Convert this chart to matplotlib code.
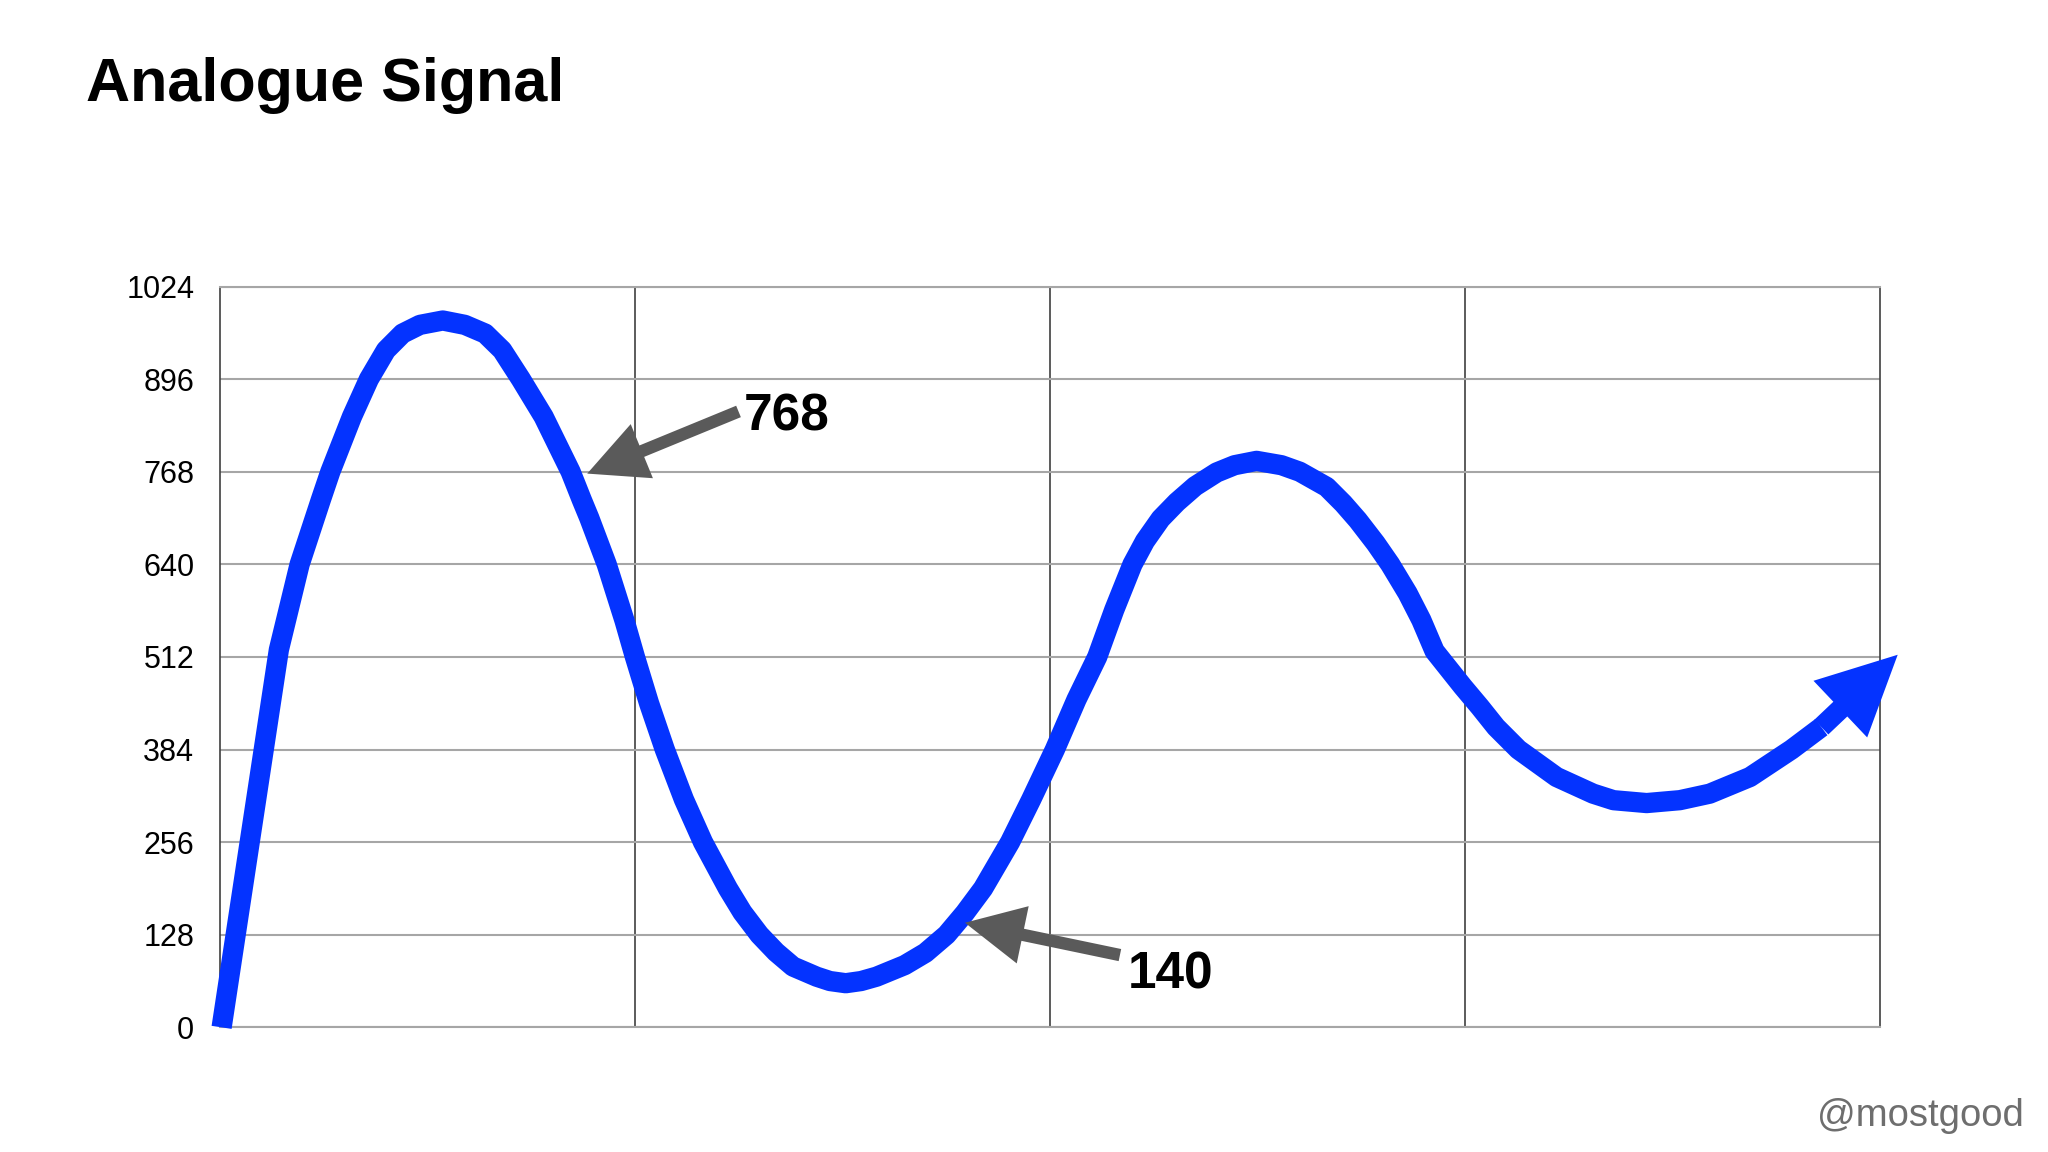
import matplotlib
matplotlib.use('Agg')
import matplotlib.pyplot as plt

plt.rcParams['font.family'] = ['Liberation Sans', 'DejaVu Sans']

# signal points (x in grid columns 0..4, y in 0..1024)
x_sig = [0.004, 0.142, 0.192, 0.243, 0.266, 0.318, 0.359, 0.400, 0.440, 0.482,
         0.537, 0.590, 0.639, 0.680, 0.725, 0.780, 0.845, 0.872, 0.890, 0.932,
         0.975, 1.000, 1.034, 1.072, 1.118, 1.164, 1.224, 1.259, 1.300, 1.340,
         1.381, 1.438, 1.470, 1.508, 1.545, 1.582, 1.650, 1.700, 1.751, 1.795,
         1.839, 1.904, 1.955, 2.012, 2.064, 2.114, 2.155, 2.199, 2.229, 2.267,
         2.306, 2.350, 2.402, 2.445, 2.498, 2.558, 2.602, 2.667, 2.707, 2.742,
         2.785, 2.820, 2.862, 2.895, 2.927, 2.995, 3.036, 3.075, 3.129, 3.221,
         3.309, 3.358, 3.438, 3.518, 3.590, 3.687, 3.787, 3.859]
y_sig = [0, 522, 640, 729, 768, 844, 896, 936, 959, 971,
         977, 971, 959, 936, 896, 844, 768, 729, 704, 640,
         562, 512, 448, 384, 315, 256, 192, 159, 128, 104,
         84, 70, 64, 61, 64, 70, 86, 103, 128, 158,
         192, 256, 315, 384, 453, 512, 577, 640, 672, 703,
         726, 748, 767, 777, 783, 777, 768, 747, 724, 701,
         669, 640, 600, 563, 520, 471, 443, 415, 384, 346,
         323, 314, 310, 314, 323, 346, 384, 415]
# where the arrow head of the signal ends
x_tip, y_tip = 4.043, 515

y_ticks = [0, 128, 256, 384, 512, 640, 768, 896, 1024]
x_lines = [1, 2, 3]

# callouts: label, label position, arrow tail, arrow tip
callouts = [
    ('768', (1.262, 825.6), (1.2496, 851.3), (0.885, 765.4)),
    ('140', (2.188, 53.9), (2.1687, 99.9), (1.7952, 144.6)),
]

azul = '#0433FF'
gris = '#5A5A5A'

fig = plt.figure(figsize=(20.48, 11.52), dpi=100)
ax = fig.add_axes([0.1074, 0.1082, 0.8105, 0.6431])

ax.set_xlim(0, 4)
ax.set_ylim(0, 1024)
ax.set_yticks(y_ticks)
ax.set_xticks(x_lines)
ax.set_xticklabels([])
ax.tick_params(axis='both', length=0)
ax.tick_params(axis='y', pad=18.5, labelsize=22)

ax.yaxis.grid(True, color='#a6a6a6', lw=1.5)
ax.xaxis.grid(True, color='#404040', lw=1.2)
ax.set_axisbelow(True)
for s in ['left', 'right']:
    ax.spines[s].set_color('#404040')
    ax.spines[s].set_linewidth(1.2)
for s in ['top', 'bottom']:
    ax.spines[s].set_color('#a6a6a6')
    ax.spines[s].set_linewidth(1.5)

ax.plot(x_sig, y_sig, color=azul, lw=14.6, solid_capstyle='butt',
        solid_joinstyle='round', clip_on=False, zorder=3)
ax.annotate('', xy=(x_tip, y_tip), xytext=(x_sig[-1], y_sig[-1]),
            arrowprops=dict(arrowstyle='simple,head_length=56.9,head_width=56.2,tail_width=14.6',
                            mutation_scale=1, color=azul, lw=0, shrinkA=0, shrinkB=0),
            annotation_clip=False, zorder=3)

for txt, pos, tail, tip in callouts:
    ax.annotate('', xy=tip, xytext=tail,
                arrowprops=dict(arrowstyle='simple,head_length=42.5,head_width=42.1,tail_width=8.9',
                                mutation_scale=1, color=gris, lw=0, shrinkA=0, shrinkB=0),
                annotation_clip=False, zorder=4)
    ax.text(pos[0], pos[1], txt, fontsize=37, fontweight='bold', ha='left',
            va='baseline', color='black', zorder=4)

fig.text(0.0418, 0.9123, 'Analogue Signal', fontsize=44, fontweight='bold',
         ha='left', va='baseline')
fig.text(0.988, 0.0226, '@mostgood', fontsize=27.5, color='#6E6E6E',
         ha='right', va='baseline')

fig.savefig('out.png', dpi=100)
